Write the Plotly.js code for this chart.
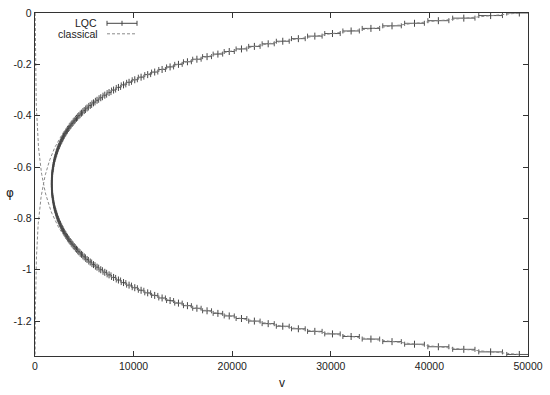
<!DOCTYPE html>
<html>
<head>
<meta charset="utf-8">
<script src="https://cdn.plot.ly/plotly-3.0.1.min.js"></script>
<style>html,body{margin:0;padding:0;background:#fff;}#chart{width:550px;height:395px;}</style>
</head>
<body>
<div id="chart"></div>
<script>
// scalar field phi (y) sampled along the trajectory
const phi = [0,-0.01,-0.02,-0.03,-0.04,-0.05,-0.06,-0.07,-0.08,-0.09,
-0.10,-0.11,-0.12,-0.13,-0.14,-0.15,-0.16,-0.17,-0.18,-0.19,
-0.20,-0.21,-0.22,-0.23,-0.24,-0.25,-0.26,-0.27,-0.28,-0.29,
-0.30,-0.31,-0.32,-0.33,-0.34,-0.35,-0.36,-0.37,-0.38,-0.39,
-0.40,-0.41,-0.42,-0.43,-0.44,-0.45,-0.46,-0.47,-0.48,-0.49,
-0.50,-0.51,-0.52,-0.53,-0.54,-0.55,-0.56,-0.57,-0.58,-0.59,
-0.60,-0.61,-0.62,-0.63,-0.64,-0.65,-0.66,-0.67,-0.68,-0.69,
-0.70,-0.71,-0.72,-0.73,-0.74,-0.75,-0.76,-0.77,-0.78,-0.79,
-0.80,-0.81,-0.82,-0.83,-0.84,-0.85,-0.86,-0.87,-0.88,-0.89,
-0.90,-0.91,-0.92,-0.93,-0.94,-0.95,-0.96,-0.97,-0.98,-0.99,
-1.00,-1.01,-1.02,-1.03,-1.04,-1.05,-1.06,-1.07,-1.08,-1.09,
-1.10,-1.11,-1.12,-1.13,-1.14,-1.15,-1.16,-1.17,-1.18,-1.19,
-1.20,-1.21,-1.22,-1.23,-1.24,-1.25,-1.26,-1.27,-1.28,-1.29,
-1.30,-1.31,-1.32,-1.33];

// LQC expectation value of v
const vLQC = [49120,46210,43490,40910,38490,36210,34070,32060,30170,28380,
26710,25130,23650,22250,20940,19700,18550,17450,16420,15460,
14550,13700,12890,12140,11430,10760,10120,9540,8980,8460,
7970,7510,7080,6670,6290,5930,5600,5280,4990,4710,
4450,4210,3980,3770,3570,3380,3210,3050,2900,2770,
2640,2520,2410,2310,2220,2140,2060,1990,1930,1880,
1840,1800,1760,1740,1720,1710,1700,
1700,1710,1720,1740,1760,1800,1840,1880,1930,1990,
2060,2140,2220,2310,2410,2520,2640,2770,2900,3050,
3210,3380,3570,3770,3980,4210,4450,4710,4990,5280,
5600,5930,6290,6670,7080,7510,7970,8460,8980,9540,
10120,10760,11430,12140,12890,13700,14550,15460,16420,17450,
18550,19700,20940,22250,23650,25130,26710,28380,30170,32060,
34070,36210,38490,40910,43490,46210,49120];

// classical trajectories (contracting and expanding branches)
const vClassA = [49100,46200,43470,40890,38470,36190,34050,32040,30140,28360,
26680,25100,23610,22220,20900,19670,18500,17410,16380,15410,
14500,13640,12840,12080,11360,10690,10060,9460,8900,8370,
7880,7410,6970,6560,6170,5810,5460,5140,4840,4550,
4280,4030,3790,3560,3350,3160,2970,2790,2630,2470,
2330,2190,2060,1940,1820,1710,1610,1520,1430,1340,
1260,1190,1120,1050,990,930,876,
824,776,730,687,646,608,572,538,506,476,
448,421,396,373,351,330,311,292,275,259,
243,229,215,203,191,179,169,159,149,141,
132,124,117,110,104,97,92,86,81,76,
72,68,64,60,56,53,50,47,44,42,
39,37,35,33,31,29,27,25,24,23,
21,20,19,18,17,16,15];

const vClassB = [15,16,17,18,19,20,21,23,24,25,
27,29,31,33,35,37,39,42,44,47,
50,53,56,60,64,68,72,76,81,86,
92,97,104,110,117,124,132,141,149,159,
169,179,191,203,215,229,243,259,275,292,
311,330,351,373,396,421,448,476,506,538,
572,608,646,687,730,776,824,
876,930,990,1050,1120,1190,1260,1340,1430,1520,
1610,1710,1820,1940,2060,2190,2330,2470,2630,2790,
2970,3160,3350,3560,3790,4030,4280,4550,4840,5140,
5460,5810,6170,6560,6970,7410,7880,8370,8900,9460,
10060,10690,11360,12080,12840,13640,14500,15410,16380,17410,
18500,19670,20900,22220,23610,25100,26680,28360,30140,32040,
34050,36190,38470,40890,43470,46200,49100];

const xTickVals = [0,10000,20000,30000,40000,50000];
const xTickText = ["0","10000","20000","30000","40000","50000"];
const yTickVals = [0,-0.2,-0.4,-0.6,-0.8,-1,-1.2];
const yTickText = ["0","-0.2","-0.4","-0.6","-0.8","-1","-1.2"];

const FONT = "Liberation Sans, Arial, sans-serif";
const L = 35, R = 22, T = 13, B = 39, W = 550, H = 395;
const pw = W - L - R, ph = H - T - B;
const px = x => (x - L) / pw;
const py = y => (H - B - y) / ph;

const traces = [
  {
    x: vLQC, y: phi, type: 'scatter', mode: 'markers', name: 'LQC',
    marker: {symbol: 'line-ns-open', size: 5, color: '#444', line: {width: 1, color: '#444'}},
    error_x: {type: 'percent', value: 2.6, symmetric: true, color: '#555', thickness: 1, width: 2.5},
    showlegend: false, cliponaxis: true
  },
  {
    x: vClassA, y: phi, type: 'scatter', mode: 'lines', name: 'classical',
    line: {color: '#8a8a8a', width: 1, dash: '3px,2px'}, showlegend: false
  },
  {
    x: vClassB, y: phi, type: 'scatter', mode: 'lines', name: 'classical',
    line: {color: '#8a8a8a', width: 1, dash: '3px,2px'}, showlegend: false
  }
];

const axisCommon = {
  showgrid: false, zeroline: false, showline: true, linecolor: '#333', linewidth: 1.3,
  mirror: 'ticks', ticks: 'inside', ticklen: 5, tickcolor: '#333', tickwidth: 1,
  tickfont: {family: FONT, size: 10.5, color: '#222'}, tickmode: 'array'
};

const layout = {
  width: W, height: H,
  margin: {l: L, r: R, t: T, b: B},
  paper_bgcolor: '#fff', plot_bgcolor: '#fff',
  showlegend: false,
  xaxis: Object.assign({}, axisCommon, {range: [0, 50000], tickvals: xTickVals, ticktext: xTickText}),
  yaxis: Object.assign({}, axisCommon, {range: [-1.336, 0], tickvals: yTickVals, ticktext: yTickText}),
  annotations: [
    {text: 'LQC', xref: 'paper', yref: 'paper', x: px(99), y: py(23.3), xanchor: 'right', yanchor: 'middle', showarrow: false, font: {family: FONT, size: 10.5, color: '#222'}},
    {text: 'classical', xref: 'paper', yref: 'paper', x: px(100), y: py(33.8), xanchor: 'right', yanchor: 'middle', showarrow: false, font: {family: FONT, size: 10.5, color: '#222'}},
    {text: 'v', xref: 'paper', yref: 'paper', x: px(282), y: py(383), xanchor: 'center', yanchor: 'middle', showarrow: false, font: {family: FONT, size: 12, color: '#222'}},
    {text: 'φ', xref: 'paper', yref: 'paper', x: px(10), y: py(193), xanchor: 'center', yanchor: 'middle', showarrow: false, font: {family: 'DejaVu Sans, sans-serif', size: 12, color: '#222'}}
  ],
  shapes: [
    {type: 'line', xref: 'paper', yref: 'paper', x0: px(107), x1: px(137), y0: py(23.3), y1: py(23.3), line: {color: '#444', width: 1}},
    {type: 'line', xref: 'paper', yref: 'paper', x0: px(107), x1: px(107), y0: py(20.8), y1: py(25.8), line: {color: '#444', width: 1}},
    {type: 'line', xref: 'paper', yref: 'paper', x0: px(137), x1: px(137), y0: py(20.8), y1: py(25.8), line: {color: '#444', width: 1}},
    {type: 'line', xref: 'paper', yref: 'paper', x0: px(122), x1: px(122), y0: py(20.8), y1: py(25.8), line: {color: '#444', width: 1}},
    {type: 'line', xref: 'paper', yref: 'paper', x0: px(107), x1: px(137), y0: py(33.8), y1: py(33.8), line: {color: '#8a8a8a', width: 1, dash: '3px,2px'}}
  ]
};

Plotly.newPlot('chart', traces, layout, {staticPlot: true, displayModeBar: false});
</script>
</body>
</html>
